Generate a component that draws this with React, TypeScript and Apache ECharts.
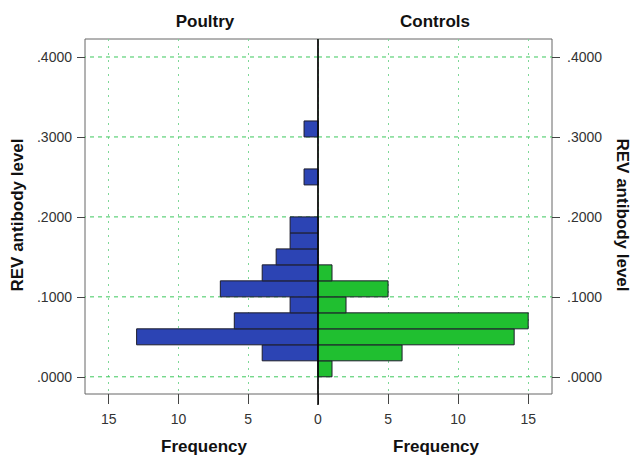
import React, { useEffect, useRef } from 'react';
import * as echarts from 'echarts';

const binLow = [0.0, 0.02, 0.04, 0.06, 0.08, 0.1, 0.12, 0.14, 0.16, 0.18, 0.2, 0.22, 0.24, 0.26, 0.28, 0.3];
const binHigh = [0.02, 0.04, 0.06, 0.08, 0.1, 0.12, 0.14, 0.16, 0.18, 0.2, 0.22, 0.24, 0.26, 0.28, 0.3, 0.32];
const poultry = [0, 4, 13, 6, 2, 7, 4, 3, 2, 2, 0, 0, 1, 0, 0, 1];
const controls = [1, 6, 14, 15, 2, 5, 1, 0, 0, 0, 0, 0, 0, 0, 0, 0];
const yTicks = [0, 0.1, 0.2, 0.3, 0.4];
const xTicks = [0, 5, 10, 15];
const xLabelsRight = [5, 10, 15];
const groupTitles = ['Poultry', 'Controls'];
const xName = 'Frequency';
const yName = 'REV antibody level';

const FONT = '"Liberation Sans", Arial, Helvetica, sans-serif';
const X_MAX = 16.7;
const Y_MIN = -0.0215;
const Y_MAX = 0.4225;

function makeRender(fill: string) {
  return (params: any, api: any) => {
    const lo = api.value(0);
    const hi = api.value(1);
    const v = api.value(2);
    const p0 = api.coord([0, hi]);
    const p1 = api.coord([v, lo]);
    const x = Math.min(p0[0], p1[0]);
    return {
      type: 'rect',
      shape: { x, y: p0[1], width: Math.abs(p1[0] - p0[0]), height: p1[1] - p0[1] },
      style: { fill, stroke: '#1c1c2a', lineWidth: 1 },
    };
  };
}

function renderHLine(params: any, api: any) {
  const v = api.value(1);
  const a = api.coord([0, v]);
  const b = api.coord([X_MAX, v]);
  return {
    type: 'line',
    shape: { x1: a[0], y1: a[1], x2: b[0], y2: b[1] },
    style: { stroke: '#3cc85c', lineWidth: 1, lineDash: [4, 4], fill: null },
  };
}

function renderCenter(params: any, api: any) {
  const a = api.coord([0, Y_MIN]);
  const b = api.coord([0, Y_MAX]);
  return {
    type: 'line',
    shape: { x1: a[0], y1: a[1] + 11, x2: b[0], y2: b[1] },
    style: { stroke: '#000000', lineWidth: 1.5, fill: null },
  };
}

export default function App() {
  const ref = useRef<HTMLDivElement>(null);
  useEffect(() => {
    const chart = echarts.init(ref.current!, null, { renderer: 'svg' });
    const yFmt = (v: number) => v.toFixed(4).replace(/^0/, '');
    const vSplit = { show: true, lineStyle: { color: '#7fd898', type: [2, 5], width: 1 } };
    const mkY = (gi: number, pos: string, margin: number) => ({
      type: 'value',
      gridIndex: gi,
      position: pos,
      min: Y_MIN,
      max: Y_MAX,
      axisLine: { show: false, onZero: false },
      axisTick: { show: true, customValues: yTicks, length: 8, lineStyle: { color: '#444' } },
      axisLabel: {
        show: true,
        customValues: yTicks,
        formatter: yFmt,
        fontSize: 14,
        color: '#333',
        fontFamily: FONT,
        margin,
      },
      splitLine: { show: false },
    });
    const mkX = (gi: number, inverse: boolean, labels: number[]) => ({
      type: 'value',
      gridIndex: gi,
      inverse,
      position: 'bottom',
      min: 0,
      max: X_MAX,
      axisLine: { show: false, onZero: false },
      axisTick: { show: true, customValues: xTicks, length: 10, lineStyle: { color: '#444' } },
      axisLabel: {
        show: true,
        customValues: labels,
        fontSize: 14,
        color: '#333',
        fontFamily: FONT,
        margin: 18,
      },
      splitLine: vSplit,
    });
    const leftData = binLow
      .map((lo, i) => [lo, binHigh[i], poultry[i]])
      .filter((d) => d[2] > 0);
    const rightData = binLow
      .map((lo, i) => [lo, binHigh[i], controls[i]])
      .filter((d) => d[2] > 0);
    const gridData = yTicks.map((v) => [0, v]);
    const titleStyle = (text: string) => ({
      text,
      font: `bold 17px ${FONT}`,
      fill: '#111',
      align: 'center',
      verticalAlign: 'middle',
    });
    chart.setOption({
      animation: false,
      backgroundColor: '#ffffff',
      grid: [
        { left: 85, top: 39, width: 233, height: 355, show: true, borderColor: '#666', borderWidth: 1, backgroundColor: 'transparent' },
        { left: 318, top: 39, width: 234, height: 355, show: true, borderColor: '#666', borderWidth: 1, backgroundColor: 'transparent' },
      ],
      xAxis: [mkX(0, true, xTicks), mkX(1, false, xLabelsRight)],
      yAxis: [mkY(0, 'left', 13), mkY(1, 'right', 15)],
      series: [
        {
          type: 'custom',
          xAxisIndex: 0,
          yAxisIndex: 0,
          data: gridData,
          encode: { x: 0, y: 1 },
          renderItem: renderHLine,
          silent: true,
          clip: false,
          z: 1,
        },
        {
          type: 'custom',
          xAxisIndex: 1,
          yAxisIndex: 1,
          data: gridData,
          encode: { x: 0, y: 1 },
          renderItem: renderHLine,
          silent: true,
          clip: false,
          z: 1,
        },
        {
          type: 'custom',
          name: groupTitles[0],
          xAxisIndex: 0,
          yAxisIndex: 0,
          data: leftData,
          encode: { x: 2, y: [0, 1] },
          renderItem: makeRender('#2c44b4'),
          z: 3,
        },
        {
          type: 'custom',
          name: groupTitles[1],
          xAxisIndex: 1,
          yAxisIndex: 1,
          data: rightData,
          encode: { x: 2, y: [0, 1] },
          renderItem: makeRender('#20bf30'),
          z: 3,
        },
        {
          type: 'custom',
          xAxisIndex: 1,
          yAxisIndex: 1,
          data: [[0, 0]],
          encode: { x: 0, y: 1 },
          renderItem: renderCenter,
          silent: true,
          clip: false,
          z: 4,
        },
      ],
      graphic: [
        { type: 'text', x: 205, y: 21.5, style: titleStyle(groupTitles[0]) },
        { type: 'text', x: 435, y: 21.5, style: titleStyle(groupTitles[1]) },
        { type: 'text', x: 204, y: 446.5, style: titleStyle(xName) },
        { type: 'text', x: 436, y: 446.5, style: titleStyle(xName) },
        {
          type: 'text',
          x: 17.5,
          y: 215,
          rotation: Math.PI / 2,
          style: { ...titleStyle(yName), font: `bold 17px ${FONT}` },
        },
        {
          type: 'text',
          x: 622.5,
          y: 215,
          rotation: -Math.PI / 2,
          style: { ...titleStyle(yName), font: `bold 17px ${FONT}` },
        },
      ],
    });
    return () => chart.dispose();
  }, []);
  return (
    <div
      ref={ref}
      style={{ position: 'absolute', left: 0, top: 0, width: 633, height: 456, background: '#fff' }}
    />
  );
}
